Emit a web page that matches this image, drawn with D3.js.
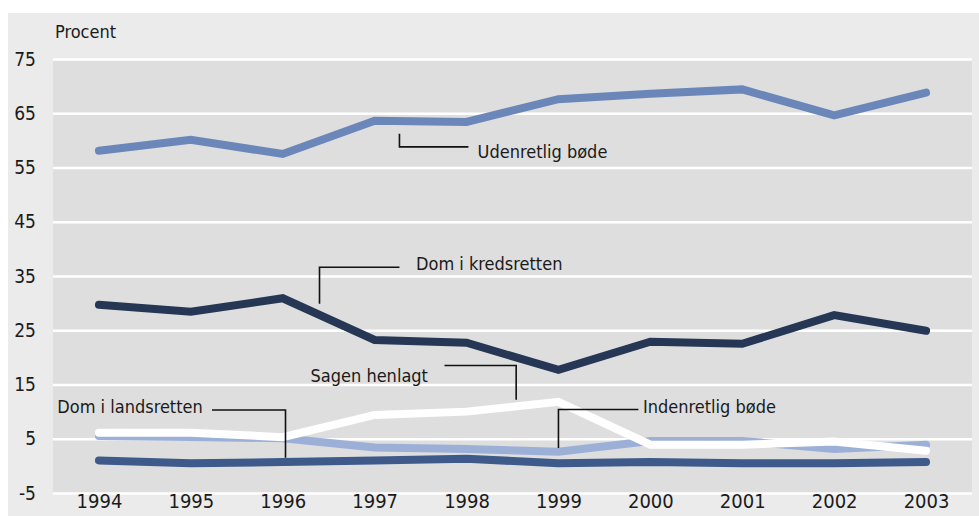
<!DOCTYPE html>
<html>
<head>
<meta charset="utf-8">
<script src="https://cdn.jsdelivr.net/npm/d3@7"></script>
<style>
    body { margin: 0; background: #fff; }
    svg text { font-family: "Liberation Sans Narrow", "DejaVu Sans Condensed", "Roboto Condensed", sans-serif; fill: #1a1a1a; }
</style>
</head>
<body>
<div id="chart"></div>
<script>
const years = [1994, 1995, 1996, 1997, 1998, 1999, 2000, 2001, 2002, 2003];
const yTicks = [-5, 5, 15, 25, 35, 45, 55, 65, 75];

const udenretligBode = [58.1, 60.1, 57.5, 63.6, 63.4, 67.6, 68.6, 69.4, 64.6, 68.8];
const domKredsretten = [29.7, 28.4, 30.9, 23.2, 22.7, 17.7, 22.9, 22.5, 27.8, 24.9];
const sagenHenlagt = [6.1, 6.1, 5.3, 9.4, 10.0, 11.8, 3.9, 3.9, 4.5, 2.8];
const indenretligBode = [5.5, 5.3, 5.1, 3.4, 3.1, 2.6, 4.6, 4.6, 3.1, 3.9];
const domLandsretten = [1.0, 0.5, 0.7, 1.0, 1.3, 0.5, 0.7, 0.5, 0.5, 0.7];

// drawing order: first one ends up at the bottom
const series = [
    { name: "Dom i landsretten", values: domLandsretten, color: "#3e5a8a" },
    { name: "Indenretlig bøde", values: indenretligBode, color: "#9cb0d7" },
    { name: "Sagen henlagt", values: sagenHenlagt, color: "#ffffff" },
    { name: "Dom i kredsretten", values: domKredsretten, color: "#263756" },
    { name: "Udenretlig bøde", values: udenretligBode, color: "#6b87ba" },
];

let dimensions = {
    width: 979,
    height: 516,
    margin: {
        top: 59,
        right: 7,
        bottom: 23,
        left: 53,
    },
}
dimensions.boundedWidth = dimensions.width - dimensions.margin.left - dimensions.margin.right;
dimensions.boundedHeight = dimensions.height - dimensions.margin.top - dimensions.margin.bottom;

const root = d3.select("#chart")
    .append("svg")
    .attr("width", dimensions.width)
    .attr("height", dimensions.height);

// outer light grey panel
root.append("rect")
    .attr("x", 8)
    .attr("y", 13)
    .attr("width", dimensions.width - 8)
    .attr("height", dimensions.height - 13)
    .attr("fill", "#ebebeb");

const svg = root.append("g")
    .attr("transform", `translate(${dimensions.margin.left}, ${dimensions.margin.top})`);

// plot area
svg.append("rect")
    .attr("width", dimensions.boundedWidth)
    .attr("height", dimensions.boundedHeight)
    .attr("fill", "#dedede");

const x = d3.scalePoint()
    .domain(years)
    .range([0, dimensions.boundedWidth])
    .padding(0.5);

const y = d3.scaleLinear()
    .domain([-5, 75])
    .range([dimensions.boundedHeight, 0]);

// Y axis with white grid lines
const yAxis = svg.append("g")
    .call(d3.axisLeft(y)
        .tickValues(yTicks)
        .tickFormat(d => String(d))
        .tickSize(-dimensions.boundedWidth)
        .tickPadding(17));
yAxis.select(".domain").remove();
yAxis.selectAll(".tick line")
    .attr("stroke", "#ffffff")
    .attr("stroke-width", 2.5);
yAxis.selectAll(".tick text")
    .style("font-size", "19px");

// X axis
const xAxis = svg.append("g")
    .attr("transform", `translate(0, ${dimensions.boundedHeight})`)
    .call(d3.axisBottom(x).tickSize(0).tickPadding(0));
xAxis.select(".domain").remove();
xAxis.selectAll(".tick text")
    .attr("dy", "0.75em")
    .style("font-size", "20px");

svg.append("text")
    .attr("x", 2)
    .attr("y", -21)
    .style("font-size", "18px")
    .text("Procent");

// lines
const line = d3.line()
    .x((d, i) => x(years[i]))
    .y(d => y(d));

svg.append("g")
    .selectAll("path")
    .data(series)
    .join("path")
    .attr("d", d => line(d.values))
    .attr("fill", "none")
    .attr("stroke", d => d.color)
    .attr("stroke-width", 8)
    .attr("stroke-linecap", "round")
    .attr("stroke-linejoin", "miter");

// callouts: leader lines drawn in data units relative to the years
const labels = [
    { text: "Udenretlig bøde", pts: [[1997.27, 61.2], [1997.27, 58.8], [1998.02, 58.8]], tx: 1998.12, ty: 57.9 },
    { text: "Dom i kredsretten", pts: [[1996.4, 29.9], [1996.4, 36.6], [1997.27, 36.6]], tx: 1997.45, ty: 37.2 },
    { text: "Sagen henlagt", pts: [[1997.76, 18.5], [1998.54, 18.5], [1998.54, 12.2]], tx: 1997.58, ty: 16.6, anchor: "end" },
    { text: "Indenretlig bøde", pts: [[1999.0, 3.3], [1999.0, 10.4], [1999.87, 10.4]], tx: 1999.92, ty: 11.0 },
    { text: "Dom i landsretten", pts: [[1995.23, 10.3], [1996.03, 10.3], [1996.03, 1.5]], tx: 1995.13, ty: 10.9, anchor: "end" },
];

const xYear = d3.scaleLinear()
    .domain([1994, 2003])
    .range([x(1994), x(2003)]);

svg.append("g")
    .selectAll("path")
    .data(labels)
    .join("path")
    .attr("d", d => d3.line().x(p => xYear(p[0])).y(p => y(p[1]))(d.pts))
    .attr("fill", "none")
    .attr("stroke", "#111")
    .attr("stroke-width", 1.6);

svg.append("g")
    .selectAll("text")
    .data(labels)
    .join("text")
    .attr("x", d => xYear(d.tx))
    .attr("y", d => y(d.ty))
    .attr("dy", "0.35em")
    .attr("text-anchor", d => d.anchor || "start")
    .style("font-size", "18px")
    .text(d => d.text);
</script>
</body>
</html>
